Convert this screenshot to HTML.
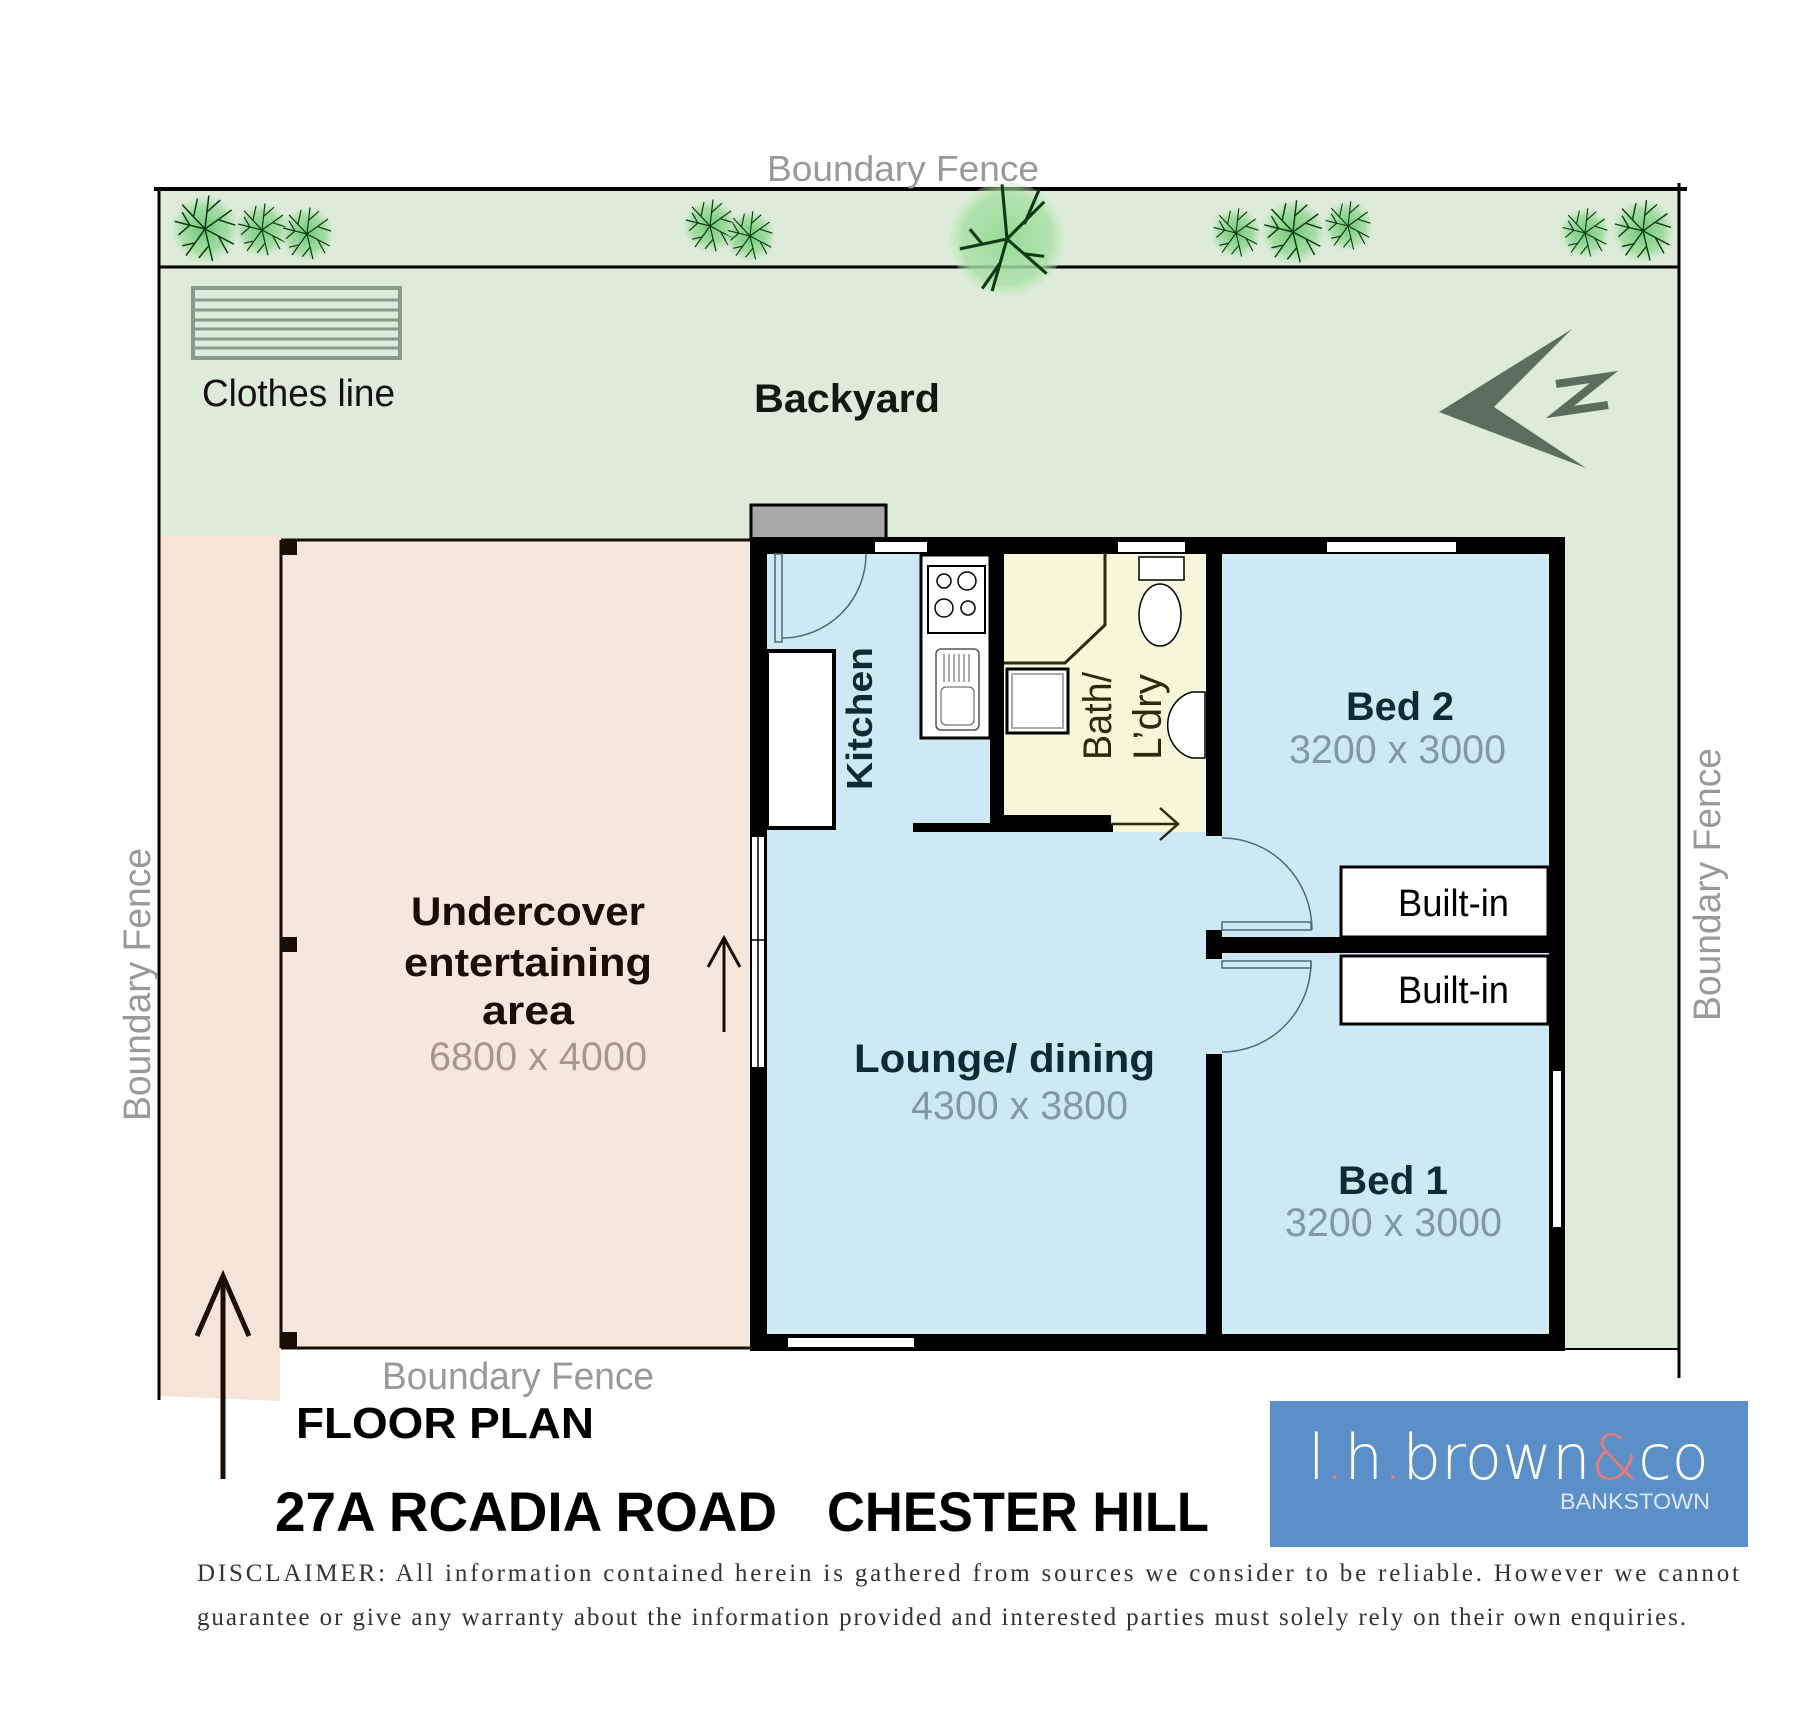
<!DOCTYPE html>
<html><head><meta charset="utf-8"><style>
html,body{margin:0;padding:0;background:#fff;}
svg{display:block}
text{font-family:"Liberation Sans","DejaVu Sans",sans-serif}
</style></head><body>
<svg width="1814" height="1725" viewBox="0 0 1814 1725" xmlns="http://www.w3.org/2000/svg">
<defs>
<radialGradient id="tg" cx="50%" cy="50%" r="50%">
<stop offset="0" stop-color="#5fc46a" stop-opacity="0.9"/>
<stop offset="0.7" stop-color="#8fd68f" stop-opacity="0.7"/>
<stop offset="1" stop-color="#bfe6bf" stop-opacity="0.2"/>
</radialGradient>
<radialGradient id="tg2" cx="50%" cy="50%" r="50%">
<stop offset="0" stop-color="#8fd890" stop-opacity="0.9"/>
<stop offset="0.8" stop-color="#a9e0a6" stop-opacity="0.8"/>
<stop offset="1" stop-color="#c8ecc4" stop-opacity="0.3"/>
</radialGradient>
<symbol id="tree" viewBox="-50 -50 100 100">
<circle r="44" fill="url(#tg)"/>
<g stroke="#0d3a12" stroke-width="2" fill="none">
<path d="M0 0L-40 -10M0 0L-25 35M0 0L10 42M0 0L38 20M0 0L35 -25M0 0L5 -44M0 0L-30 -32"/>
<path d="M-20 -5L-30 -22M-20 -5L-35 8M-12 18L-30 22M5 22L-8 38M18 10L30 32M18 -12L40 -5M2 -22L20 -38M-15 -16L-10 -40"/>
</g>
</symbol>
<symbol id="bigtree" viewBox="-50 -50 100 100">
<circle r="46" fill="url(#tg2)"/>
<g stroke="#0d3a12" stroke-width="2.5" fill="none">
<path d="M0 0L-38 8M0 0L-12 42M0 0L32 28M0 0L30 -30M0 0L-4 -44"/>
<path d="M-20 4L-30 -8M14 12L30 14M14 -12L26 -40M-6 20L-20 40"/>
</g>
</symbol>
</defs>

<rect x="159" y="189" width="1520" height="1160" fill="#dcecd8"/>
<polygon points="159,535 280,535 280,1401 159,1396" fill="#f5e4d7"/>
<rect x="280" y="540" width="470" height="808" fill="#f6e7dc"/>
<line x1="154" y1="189" x2="1687" y2="189" stroke="#000" stroke-width="4"/>
<line x1="159" y1="267" x2="1679" y2="267" stroke="#000" stroke-width="3"/>
<line x1="159" y1="189" x2="159" y2="1400" stroke="#000" stroke-width="3"/>
<line x1="1679" y1="183" x2="1679" y2="1378" stroke="#000" stroke-width="3"/>
<line x1="1565" y1="1349" x2="1679" y2="1349" stroke="#000" stroke-width="2"/>

<use href="#tree" x="167" y="191" width="76" height="76"/>
<use href="#tree" x="232" y="200" width="60" height="60"/>
<use href="#tree" x="277" y="204" width="60" height="60"/>
<use href="#tree" x="680" y="196" width="60" height="60"/>
<use href="#tree" x="722" y="208" width="56" height="56"/>
<use href="#bigtree" x="945" y="177" width="124" height="124"/>
<use href="#tree" x="1208" y="205" width="56" height="56"/>
<use href="#tree" x="1257" y="196" width="72" height="72"/>
<use href="#tree" x="1320" y="198" width="56" height="56"/>
<use href="#tree" x="1557" y="205" width="56" height="56"/>
<use href="#tree" x="1608" y="196" width="70" height="70"/>

<rect x="193" y="288" width="207" height="70" fill="none" stroke="#8a9a8a" stroke-width="4"/>
<g stroke="#8a9a8a" stroke-width="3">
<line x1="193" y1="300" x2="400" y2="300"/><line x1="193" y1="310" x2="400" y2="310"/>
<line x1="193" y1="320" x2="400" y2="320"/><line x1="193" y1="329" x2="400" y2="329"/>
<line x1="193" y1="339" x2="400" y2="339"/><line x1="193" y1="348" x2="400" y2="348"/>
</g>
<text x="202" y="406" font-size="38" fill="#111" textLength="193" lengthAdjust="spacingAndGlyphs">Clothes line</text>
<text x="754" y="412" font-size="40" font-weight="bold" fill="#0d1a0d" textLength="186" lengthAdjust="spacingAndGlyphs">Backyard</text>
<text x="767" y="181" font-size="36" fill="#999" textLength="272" lengthAdjust="spacingAndGlyphs">Boundary Fence</text>

<polygon points="1439,412 1572,329 1494,407 1586,468" fill="#5b6d5b"/>
<polyline points="1556,384 1604,377 1560,412 1608,405" fill="none" stroke="#5b6d5b" stroke-width="8" stroke-linejoin="miter"/>

<line x1="281" y1="540" x2="750" y2="540" stroke="#1a0d05" stroke-width="3"/>
<line x1="281" y1="540" x2="281" y2="1348" stroke="#1a0d05" stroke-width="3"/>
<line x1="281" y1="1348" x2="750" y2="1348" stroke="#1a0d05" stroke-width="3"/>
<rect x="280" y="541" width="17" height="14" fill="#1a0d05"/>
<rect x="280" y="937" width="17" height="15" fill="#1a0d05"/>
<rect x="280" y="1332" width="17" height="16" fill="#1a0d05"/>

<rect x="758" y="546" width="799" height="797" fill="#cfe9f4"/>
<rect x="1004" y="553" width="202" height="279" fill="#f6f6da"/>

<rect x="751" y="505" width="135" height="34" fill="#a8a8a8" stroke="#000" stroke-width="3"/>

<g fill="#000">
<rect x="750" y="537" width="815" height="17"/>
<rect x="750" y="537" width="17" height="814"/>
<rect x="1549" y="537" width="16" height="814"/>
<rect x="750" y="1334" width="815" height="17"/>
<rect x="990" y="553" width="14" height="279"/>
<rect x="913" y="823" width="200" height="9"/>
<rect x="990" y="815" width="121" height="17"/>
<rect x="1206" y="553" width="16" height="283"/>
<rect x="1206" y="930" width="16" height="29"/>
<rect x="1206" y="1054" width="16" height="290"/>
<rect x="1222" y="937" width="327" height="16"/>
</g>

<g fill="#fff" stroke="#000" stroke-width="2">
<rect x="874" y="541" width="54" height="12"/>
<rect x="1117" y="541" width="69" height="12"/>
<rect x="1326" y="541" width="131" height="12"/>
<rect x="787" y="1337" width="128" height="11"/>
<rect x="1552" y="1070" width="10" height="158"/>
<rect x="751" y="836" width="14" height="232"/>
</g>
<line x1="758" y1="836" x2="758" y2="1068" stroke="#000" stroke-width="1.5"/>
<line x1="751" y1="940" x2="765" y2="940" stroke="#000" stroke-width="1.5"/>

<g stroke="#1a0d05" stroke-width="3" fill="none">
<line x1="724" y1="1032" x2="724" y2="938"/>
<polyline points="708,967 724,938 740,967"/>
</g>

<rect x="775" y="554" width="7" height="88" fill="#cfe9f4" stroke="#4a6a7a" stroke-width="1.5"/>
<path d="M866 554 A84 84 0 0 1 782 638" fill="none" stroke="#4a6a7a" stroke-width="1.5"/>
<rect x="767" y="651" width="67" height="177" fill="#fff" stroke="#000" stroke-width="4"/>
<rect x="921" y="555" width="69" height="183" fill="#fff" stroke="#000" stroke-width="3"/>
<rect x="928" y="566" width="57" height="67" fill="#fff" stroke="#000" stroke-width="2"/>
<circle cx="944" cy="581" r="7" fill="none" stroke="#000" stroke-width="1.5"/>
<circle cx="967" cy="581" r="9" fill="none" stroke="#000" stroke-width="1.5"/>
<circle cx="944" cy="608" r="9" fill="none" stroke="#000" stroke-width="1.5"/>
<circle cx="968" cy="608" r="7" fill="none" stroke="#000" stroke-width="1.5"/>
<rect x="936" y="649" width="43" height="81" rx="5" fill="#fff" stroke="#555" stroke-width="1.5"/>
<g stroke="#555" stroke-width="1">
<line x1="944" y1="654" x2="944" y2="682"/><line x1="949" y1="654" x2="949" y2="682"/>
<line x1="954" y1="654" x2="954" y2="682"/><line x1="959" y1="654" x2="959" y2="682"/>
<line x1="964" y1="654" x2="964" y2="682"/><line x1="969" y1="654" x2="969" y2="682"/>
</g>
<rect x="941" y="687" width="33" height="38" rx="5" fill="none" stroke="#555" stroke-width="1"/>

<polyline points="1004,663 1065,663 1105,625 1105,553" fill="none" stroke="#2b2b0a" stroke-width="3"/>
<rect x="1007" y="669" width="61" height="64" fill="#fff" stroke="#000" stroke-width="3"/>
<rect x="1012" y="674" width="51" height="54" fill="#fff" stroke="#aaa" stroke-width="2"/>
<rect x="1139" y="557" width="45" height="23" fill="#fff" stroke="#000" stroke-width="1.5"/>
<ellipse cx="1160" cy="615" rx="21" ry="31" fill="#fff" stroke="#000" stroke-width="1.5"/>
<path d="M1205 692 L1192 692 A32 34 0 0 0 1192 758 L1205 758 Z" fill="#fff" stroke="#000" stroke-width="1.5"/>
<g stroke="#2b2b0a" stroke-width="2.5" fill="none">
<line x1="1111" y1="824" x2="1178" y2="824"/>
<polyline points="1160,808 1178,824 1160,840"/>
</g>

<rect x="1341" y="867" width="207" height="70" fill="#fff" stroke="#000" stroke-width="3"/>
<rect x="1341" y="956" width="207" height="68" fill="#fff" stroke="#000" stroke-width="3"/>

<rect x="1222" y="922" width="89" height="8" fill="#cfe9f4" stroke="#4a6a7a" stroke-width="1.5"/>
<rect x="1222" y="961" width="89" height="7" fill="#cfe9f4" stroke="#4a6a7a" stroke-width="1.5"/>
<path d="M1222 838 A90 92 0 0 1 1312 930" fill="none" stroke="#4a6a7a" stroke-width="1.5"/>
<path d="M1311 962 A89 90 0 0 1 1222 1052" fill="none" stroke="#4a6a7a" stroke-width="1.5"/>

<text transform="translate(872,790) rotate(-90)" font-size="36" font-weight="bold" fill="#0d2a35" textLength="143" lengthAdjust="spacingAndGlyphs">Kitchen</text>
<text transform="translate(1111,760) rotate(-90)" font-size="40" fill="#2b2b0a" textLength="88" lengthAdjust="spacingAndGlyphs">Bath/</text>
<text transform="translate(1161,760) rotate(-90)" font-size="40" fill="#2b2b0a" textLength="86" lengthAdjust="spacingAndGlyphs">L’dry</text>

<text x="1346" y="720" font-size="40" font-weight="bold" fill="#0d2a35" textLength="108" lengthAdjust="spacingAndGlyphs">Bed 2</text>
<text x="1289" y="763" font-size="40" fill="#7f98a2" textLength="217" lengthAdjust="spacingAndGlyphs">3200 x 3000</text>
<text x="1398" y="916" font-size="38" fill="#000" textLength="111" lengthAdjust="spacingAndGlyphs">Built-in</text>
<text x="1398" y="1003" font-size="38" fill="#000" textLength="111" lengthAdjust="spacingAndGlyphs">Built-in</text>
<text x="854" y="1072" font-size="40" font-weight="bold" fill="#0d2a35" textLength="301" lengthAdjust="spacingAndGlyphs">Lounge/ dining</text>
<text x="911" y="1119" font-size="40" fill="#7f98a2" textLength="217" lengthAdjust="spacingAndGlyphs">4300 x 3800</text>
<text x="1338" y="1194" font-size="40" font-weight="bold" fill="#0d2a35" textLength="110" lengthAdjust="spacingAndGlyphs">Bed 1</text>
<text x="1285" y="1236" font-size="40" fill="#7f98a2" textLength="217" lengthAdjust="spacingAndGlyphs">3200 x 3000</text>

<text x="528" y="925" font-size="40" font-weight="bold" fill="#1a0d05" text-anchor="middle" textLength="234" lengthAdjust="spacingAndGlyphs">Undercover</text>
<text x="528" y="976" font-size="40" font-weight="bold" fill="#1a0d05" text-anchor="middle" textLength="248" lengthAdjust="spacingAndGlyphs">entertaining</text>
<text x="528" y="1024" font-size="40" font-weight="bold" fill="#1a0d05" text-anchor="middle" textLength="92" lengthAdjust="spacingAndGlyphs">area</text>
<text x="538" y="1070" font-size="40" fill="#a8968a" text-anchor="middle" textLength="218" lengthAdjust="spacingAndGlyphs">6800 x 4000</text>

<text transform="translate(150,1121) rotate(-90)" font-size="38" fill="#999" textLength="273" lengthAdjust="spacingAndGlyphs">Boundary Fence</text>
<text transform="translate(1720,1021) rotate(-90)" font-size="38" fill="#999" textLength="273" lengthAdjust="spacingAndGlyphs">Boundary Fence</text>
<text x="382" y="1389" font-size="38" fill="#999" textLength="272" lengthAdjust="spacingAndGlyphs">Boundary Fence</text>

<g stroke="#1a0d05" stroke-width="5" fill="none">
<line x1="223" y1="1479" x2="223" y2="1276"/>
<polyline points="197,1336 223,1276 249,1336"/>
</g>

<text x="296" y="1438" font-size="44" font-weight="bold" fill="#000" textLength="298" lengthAdjust="spacingAndGlyphs">FLOOR PLAN</text>
<text x="275" y="1531" font-size="56" font-weight="bold" fill="#000" textLength="502" lengthAdjust="spacingAndGlyphs">27A RCADIA ROAD</text>
<text x="827" y="1531" font-size="56" font-weight="bold" fill="#000" textLength="382" lengthAdjust="spacingAndGlyphs">CHESTER HILL</text>

<rect x="1270" y="1401" width="478" height="146" fill="#5b8fc7"/>
<text x="1308" y="1479" font-size="62" fill="#fff" textLength="401" lengthAdjust="spacingAndGlyphs" style="font-family:'DejaVu Sans',sans-serif;font-weight:200">l<tspan fill="#e87a7a">.</tspan>h<tspan fill="#e87a7a">.</tspan>brown<tspan fill="#e87a7a">&amp;</tspan>co</text>
<text x="1560" y="1509" font-size="22" fill="#dfe6f5" textLength="150" lengthAdjust="spacingAndGlyphs">BANKSTOWN</text>

<text x="197" y="1581" font-size="25" fill="#333" textLength="1542" lengthAdjust="spacing" style="font-family:'Liberation Serif',serif">DISCLAIMER:  All information contained herein is gathered from sources we consider to be reliable. However we cannot</text>
<text x="197" y="1625" font-size="25" fill="#333" textLength="1489" lengthAdjust="spacing" style="font-family:'Liberation Serif',serif">guarantee or give any warranty about the information provided and interested parties must solely rely on their own enquiries.</text>
</svg>
</body></html>
